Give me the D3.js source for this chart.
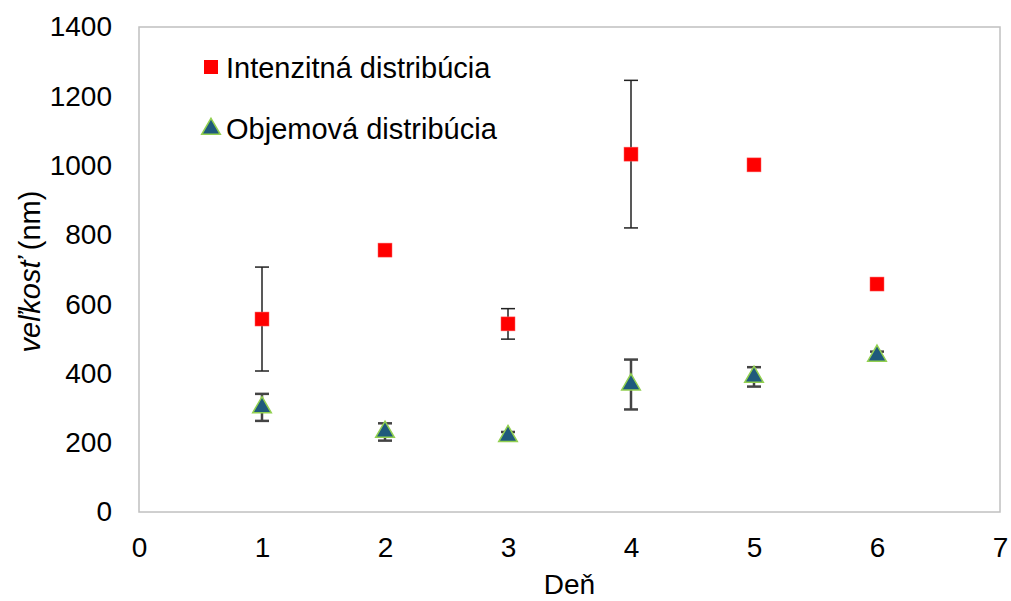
<!DOCTYPE html>
<html>
<head>
<meta charset="utf-8">
<script src="https://cdn.jsdelivr.net/npm/d3@7"></script>
<style>
  body { margin: 0; background: #fff; }
  text { font-family: "Liberation Sans", Arial, sans-serif; fill: #000; }
</style>
</head>
<body>
<div class="chart"></div>
<script>
// data
var days = [1, 2, 3, 4, 5, 6];
var intenzitna = [557, 756, 543, 1033, 1002, 658];
var intenzitnaErr = [150, 0, 44, 213, 0, 0];
var objemova = [302, 231, 219, 368, 390, 451];
var objemovaErr = [39, 25, 12, 72, 28, 12];
var xTicks = [0, 1, 2, 3, 4, 5, 6, 7];
var yTicks = [0, 200, 400, 600, 800, 1000, 1200, 1400];

var width = 1011, height = 601;
var mLeft = 139, mRight = 1000, mTop = 27, mBottom = 512;

var svg = d3.select(".chart").append("svg")
            .attr("width", width)
            .attr("height", height);

var x = d3.scaleLinear().domain([0, 7]).range([mLeft, mRight]);
var y = d3.scaleLinear().domain([0, 1400]).range([mBottom, mTop]);

// plot frame
svg.append("rect")
   .attr("x", mLeft).attr("y", mTop)
   .attr("width", mRight - mLeft).attr("height", mBottom - mTop)
   .attr("fill", "none")
   .attr("stroke", "#c0c0c0")
   .attr("stroke-width", 1.5);

// axes (labels only, Excel style)
var xAxis = svg.append("g")
   .attr("transform", "translate(0," + mBottom + ")")
   .call(d3.axisBottom(x).tickValues(xTicks).tickFormat(d3.format("d")).tickSize(0).tickPadding(25));
var yAxis = svg.append("g")
   .attr("transform", "translate(" + mLeft + ",0)")
   .call(d3.axisLeft(y).tickValues(yTicks).tickFormat(d3.format("d")).tickSize(0).tickPadding(27));
[xAxis, yAxis].forEach(function(a){
  a.select(".domain").remove();
  a.selectAll("text")
   .style("font-family", "'Liberation Sans', Arial, sans-serif")
   .style("font-size", "28px")
   .attr("fill", "#000");
});

// axis titles
svg.append("text")
   .attr("x", x(3.5)).attr("y", 594)
   .attr("text-anchor", "middle")
   .style("font-size", "28px")
   .text("Deň");

var yt = svg.append("text")
   .attr("transform", "translate(40," + ((mTop + mBottom) / 2 + 2) + ") rotate(-90)")
   .attr("text-anchor", "middle")
   .style("font-size", "29px");
yt.append("tspan").style("font-style", "italic").text("veľkosť");
yt.append("tspan").text(" (nm)");

function errorBars(vals, errs, color, w) {
  var g = svg.append("g").attr("stroke", color).attr("stroke-width", w);
  days.forEach(function(d, i){
    if (!errs[i]) return;
    var cx = x(d), y1 = y(vals[i] + errs[i]), y2 = y(vals[i] - errs[i]);
    g.append("line").attr("x1", cx).attr("x2", cx).attr("y1", y1).attr("y2", y2);
    g.append("line").attr("x1", cx - 7).attr("x2", cx + 7).attr("y1", y1).attr("y2", y1);
    g.append("line").attr("x1", cx - 7).attr("x2", cx + 7).attr("y1", y2).attr("y2", y2);
  });
}

errorBars(intenzitna, intenzitnaErr, "#222", 1.5);
errorBars(objemova, objemovaErr, "#444", 2.5);

var tri = d3.symbol().type(d3.symbolTriangle).size(150);

// intensity points
svg.selectAll(".sq").data(days).enter()
   .append("rect")
   .attr("class", "sq")
   .attr("x", function(d){ return x(d) - 7; })
   .attr("y", function(d, i){ return y(intenzitna[i]) - 7; })
   .attr("width", 14).attr("height", 14)
   .attr("fill", "#ff0000")
   .attr("stroke", "#ff6060").attr("stroke-width", 0.5);

// volume points
svg.selectAll(".tri").data(days).enter()
   .append("path")
   .attr("class", "tri")
   .attr("d", tri)
   .attr("transform", function(d, i){ return "translate(" + x(d) + "," + y(objemova[i]) + ")"; })
   .attr("fill", "#1f5a7c")
   .attr("stroke", "#92d050").attr("stroke-width", 1.5);

// legend
svg.append("rect")
   .attr("x", 204).attr("y", 60).attr("width", 14).attr("height", 14)
   .attr("fill", "#ff0000");
svg.append("text")
   .attr("x", 226).attr("y", 78)
   .style("font-size", "29px")
   .text("Intenzitná distribúcia");
svg.append("path")
   .attr("d", tri)
   .attr("transform", "translate(211,129)")
   .attr("fill", "#1f5a7c")
   .attr("stroke", "#92d050").attr("stroke-width", 1.5);
svg.append("text")
   .attr("x", 226).attr("y", 139)
   .style("font-size", "29px")
   .text("Objemová distribúcia");
</script>
</body>
</html>
